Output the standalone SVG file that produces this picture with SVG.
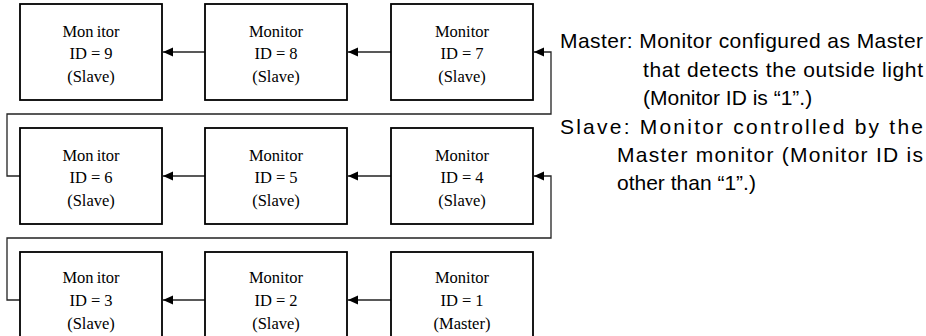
<svg xmlns="http://www.w3.org/2000/svg" width="926" height="336" viewBox="0 0 926 336">
<style>
.box{fill:#fff;stroke:#000;stroke-width:1.8}
.lbl{font-family:"Liberation Serif","Times New Roman",serif;font-size:16.5px;fill:#000;text-anchor:middle}
.con{fill:none;stroke:#222;stroke-width:1.3}
.note{font-family:"Liberation Sans",Arial,sans-serif;font-size:21px;fill:#000}
</style>
<defs>
<marker id="ah" markerUnits="userSpaceOnUse" markerWidth="10" markerHeight="10" refX="10" refY="4.5" orient="auto">
<path d="M0,0 L10,4.5 L0,9 z" fill="#000"/>
</marker>
</defs>
<rect width="926" height="336" fill="#fff"/>
<g id="connectors">
<line class="con" x1="205" y1="52" x2="163" y2="52" marker-end="url(#ah)"/>
<line class="con" x1="391" y1="52" x2="348" y2="52" marker-end="url(#ah)"/>
<line class="con" x1="205" y1="176" x2="163" y2="176" marker-end="url(#ah)"/>
<line class="con" x1="391" y1="176" x2="348" y2="176" marker-end="url(#ah)"/>
<line class="con" x1="205" y1="300" x2="163" y2="300" marker-end="url(#ah)"/>
<line class="con" x1="391" y1="300" x2="348" y2="300" marker-end="url(#ah)"/>
<path class="con" d="M20,176 H7 V114 H551 V52 H534" marker-end="url(#ah)"/>
<path class="con" d="M20,300 H7 V238 H551 V176 H534" marker-end="url(#ah)"/>
</g>
<g id="m9"><rect class="box" x="20" y="4" width="142" height="96"/><text class="lbl" x="91" y="37">Mon<tspan dx="3">itor</tspan></text><text class="lbl" x="91" y="59">ID = 9</text><text class="lbl" x="91" y="82">(Slave)</text></g>
<g id="m8"><rect class="box" x="205" y="4" width="142" height="96"/><text class="lbl" x="276" y="37">Monitor</text><text class="lbl" x="276" y="59">ID = 8</text><text class="lbl" x="276" y="82">(Slave)</text></g>
<g id="m7"><rect class="box" x="391" y="4" width="142" height="96"/><text class="lbl" x="462" y="37">Monitor</text><text class="lbl" x="462" y="59">ID = 7</text><text class="lbl" x="462" y="82">(Slave)</text></g>
<g id="m6"><rect class="box" x="20" y="128" width="142" height="96"/><text class="lbl" x="91" y="161">Mon<tspan dx="3">itor</tspan></text><text class="lbl" x="91" y="183">ID = 6</text><text class="lbl" x="91" y="206">(Slave)</text></g>
<g id="m5"><rect class="box" x="205" y="128" width="142" height="96"/><text class="lbl" x="276" y="161">Monitor</text><text class="lbl" x="276" y="183">ID = 5</text><text class="lbl" x="276" y="206">(Slave)</text></g>
<g id="m4"><rect class="box" x="391" y="128" width="142" height="96"/><text class="lbl" x="462" y="161">Monitor</text><text class="lbl" x="462" y="183">ID = 4</text><text class="lbl" x="462" y="206">(Slave)</text></g>
<g id="m3"><rect class="box" x="20" y="252" width="142" height="96"/><text class="lbl" x="91" y="283">Mon<tspan dx="3">itor</tspan></text><text class="lbl" x="91" y="306">ID = 3</text><text class="lbl" x="91" y="329">(Slave)</text></g>
<g id="m2"><rect class="box" x="205" y="252" width="142" height="96"/><text class="lbl" x="276" y="283">Monitor</text><text class="lbl" x="276" y="306">ID = 2</text><text class="lbl" x="276" y="329">(Slave)</text></g>
<g id="m1"><rect class="box" x="391" y="252" width="142" height="96"/><text class="lbl" x="462" y="283">Monitor</text><text class="lbl" x="462" y="306">ID = 1</text><text class="lbl" x="462" y="329">(Master)</text></g>
<g id="legend">
<text class="note" x="560" y="48" textLength="363" lengthAdjust="spacing">Master: Monitor configured as Master</text>
<text class="note" x="643" y="77" textLength="280" lengthAdjust="spacing">that detects the outside light</text>
<text class="note" x="643" y="105">(Monitor ID is “1”.)</text>
<text class="note" x="560" y="134" textLength="363" lengthAdjust="spacing">Slave: Monitor controlled by the</text>
<text class="note" x="617" y="162" textLength="306" lengthAdjust="spacing">Master monitor (Monitor ID is</text>
<text class="note" x="617" y="190">other than “1”.)</text>
</g>
</svg>
